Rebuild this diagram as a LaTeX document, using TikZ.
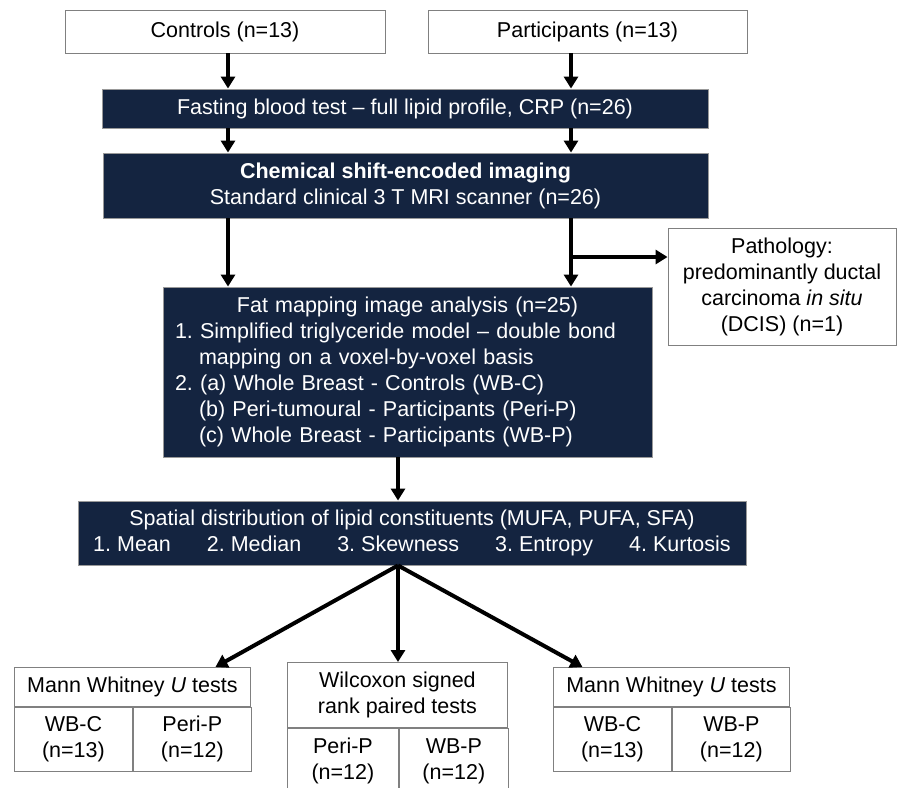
\documentclass[tikz,border=0pt]{standalone}
\usepackage{fontspec}
\setmainfont{Liberation Sans}
\usepackage{tikz}
\usetikzlibrary{arrows.meta,positioning}
\definecolor{navyfill}{RGB}{20, 36, 64}
\frenchspacing

\begin{document}
\begin{tikzpicture}[
      x=1pt, y=-1pt,
      >={Triangle[length=12pt,width=14pt]},
      every node/.style={font=\fontsize{21.5}{26}\selectfont},
      whitebox/.style={rectangle, draw=black!50, line width=0.9pt, fill=white,
        align=center, inner sep=0pt},
      navybox/.style={rectangle, draw=black!40, line width=0.9pt, fill=navyfill,
        text=white, align=center, inner sep=0pt},
      flow/.style={->, line width=4pt},
  ]
      \useasboundingbox (0,0) rectangle (898,788);

      % Groups
      \node[whitebox, minimum width=320, minimum height=43] (controls) at (225,31.5) {Controls (n=13)};
      \node[whitebox, minimum width=319, minimum height=43] (participants) at (587.5,31.5) {Participants (n=13)};

      % Main steps
      \node[navybox, minimum width=606, minimum height=39] (blood) at (405,108.5)
          {Fasting blood test -- full lipid profile, CRP (n=26)};
      \node[navybox, minimum width=605, minimum height=65] (imaging) at (405.5,185.5)
          {\textbf{Chemical shift-encoded imaging}\\Standard clinical 3 T MRI scanner (n=26)};
      \node[navybox, minimum width=489, minimum height=170, text width=465, align=left] (fatmap) at (407.5,372)
          {\makebox[465pt]{Fat mapping image analysis (n=25)}\\
           1. Simplified triglyceride model -- double bond\\
           \hspace*{24pt}mapping on a voxel-by-voxel basis\\
           2. (a) Whole Breast - Controls (WB-C)\\
           \hspace*{24pt}(b) Peri-tumoural - Participants (Peri-P)\\
           \hspace*{24pt}(c) Whole Breast - Participants (WB-P)};
      \node[whitebox, minimum width=228, minimum height=117] (pathology) at (782,286.5)
          {Pathology:\\predominantly ductal\\carcinoma \textit{in situ}\\(DCIS) (n=1)};
      \node[navybox, minimum width=668, minimum height=64] (spatial) at (412,533)
          {Spatial distribution of lipid constituents (MUFA, PUFA, SFA)\\
           1. Mean\hspace{36pt}2. Median\hspace{36pt}3. Skewness\hspace{36pt}3. Entropy\hspace{36pt}4. Kurtosis};

      % Tests
      \node[whitebox, minimum width=236, minimum height=39, anchor=north west] (mwleft) at (14,667)
          {Mann Whitney \textit{U} tests};
      \node[whitebox, minimum width=118, minimum height=64, anchor=north west] (mwleftc) at (mwleft.south west)
          {WB-C\\(n=13)};
      \node[whitebox, minimum width=118, minimum height=64, anchor=north west] (mwleftp) at (mwleftc.north east)
          {Peri-P\\(n=12)};

      \node[whitebox, minimum width=220, minimum height=65, anchor=north west] (wilcox) at (287,662)
          {Wilcoxon signed\\rank paired tests};
      \node[whitebox, minimum width=111, minimum height=65, anchor=north west] (wilcoxperi) at (wilcox.south west)
          {Peri-P\\(n=12)};
      \node[whitebox, minimum width=109, minimum height=65, anchor=north west] (wilcoxwb) at (wilcoxperi.north east)
          {WB-P\\(n=12)};

      \node[whitebox, minimum width=236, minimum height=39, anchor=north west] (mwright) at (553,667)
          {Mann Whitney \textit{U} tests};
      \node[whitebox, minimum width=118, minimum height=64, anchor=north west] (mwrightc) at (mwright.south west)
          {WB-C\\(n=13)};
      \node[whitebox, minimum width=118, minimum height=64, anchor=north west] (mwrightp) at (mwrightc.north east)
          {WB-P\\(n=12)};

      % Lanes for the arrows
      \coordinate (laneL) at (228,0);
      \coordinate (laneR) at (571,0);
      \coordinate (laneM) at (398,0);
      \coordinate (split) at (571,257);

      % Arrows
      \draw[flow] (controls.south -| laneL) -- (blood.north -| laneL);
      \draw[flow] (participants.south -| laneR) -- (blood.north -| laneR);
      \draw[flow] (blood.south -| laneL) -- (imaging.north -| laneL);
      \draw[flow] (blood.south -| laneR) -- (imaging.north -| laneR);
      \draw[flow] (imaging.south -| laneL) -- (fatmap.north -| laneL);
      \draw[flow] (imaging.south -| laneR) -- (fatmap.north -| laneR);
      \draw[flow] (split) -- (split -| pathology.west);
      \draw[flow] (fatmap.south -| laneM) -- (spatial.north -| laneM);
      \draw[flow] (spatial.south -| laneM) -- ([xshift=83]mwleft.north);
      \draw[flow] (spatial.south -| laneM) -- (wilcox.north -| laneM);
      \draw[flow] (spatial.south -| laneM) -- ([xshift=-89]mwright.north);

  \end{tikzpicture}
\end{document}
